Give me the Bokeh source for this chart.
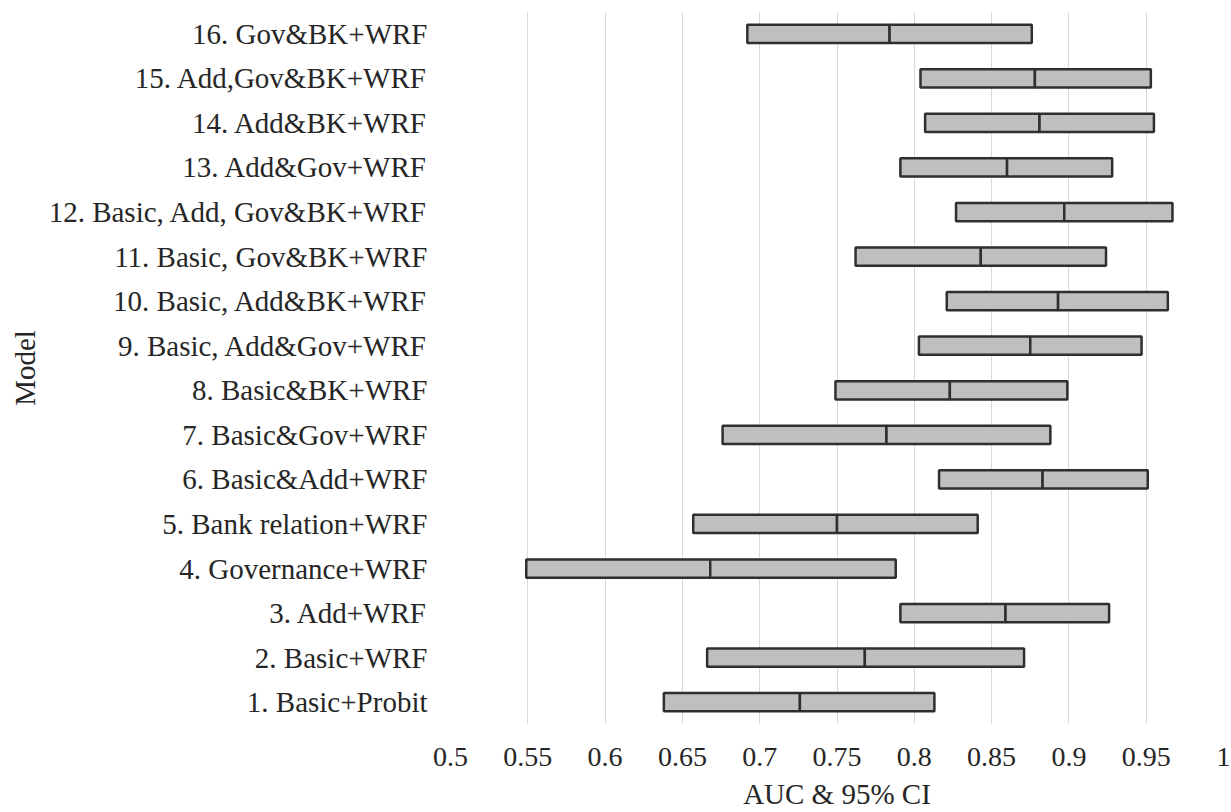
from bokeh.plotting import figure
from bokeh.models import FixedTicker, Range1d
from bokeh.embed import file_html
from bokeh.resources import INLINE

models = [
    "1. Basic+Probit",
    "2. Basic+WRF",
    "3. Add+WRF",
    "4. Governance+WRF",
    "5. Bank relation+WRF",
    "6. Basic&Add+WRF",
    "7. Basic&Gov+WRF",
    "8. Basic&BK+WRF",
    "9. Basic, Add&Gov+WRF",
    "10. Basic, Add&BK+WRF",
    "11. Basic, Gov&BK+WRF",
    "12. Basic, Add, Gov&BK+WRF",
    "13. Add&Gov+WRF",
    "14. Add&BK+WRF",
    "15. Add,Gov&BK+WRF",
    "16. Gov&BK+WRF",
]
ci_low = [0.638, 0.666, 0.791, 0.549, 0.657, 0.816, 0.676, 0.749,
          0.803, 0.821, 0.762, 0.827, 0.791, 0.807, 0.804, 0.692]
auc = [0.726, 0.768, 0.859, 0.668, 0.750, 0.883, 0.782, 0.823,
       0.875, 0.893, 0.843, 0.897, 0.860, 0.881, 0.878, 0.784]
ci_high = [0.813, 0.871, 0.926, 0.788, 0.841, 0.951, 0.888, 0.899,
           0.947, 0.964, 0.924, 0.967, 0.928, 0.955, 0.953, 0.876]
x_ticks = [0.5, 0.55, 0.6, 0.65, 0.7, 0.75, 0.8, 0.85, 0.9, 0.95, 1.0]
x_tick_labels = ["0.5", "0.55", "0.6", "0.65", "0.7", "0.75", "0.8", "0.85", "0.9", "0.95", "1"]

FONT = "Liberation Serif"
TXT = "#262626"

p = figure(
    y_range=models,
    x_range=Range1d(0.5, 1.0),
    width=1230,
    height=812,
    output_backend="svg",
    toolbar_location=None,
    min_border_left=450,
    min_border_right=7,
    min_border_top=11,
    min_border_bottom=87,
)
p.outline_line_color = None

p.hbar(y=models, left=ci_low, right=auc, height=0.41,
       fill_color="#bfbfbf", line_color="#2f2f2f", line_width=2.5)
p.hbar(y=models, left=auc, right=ci_high, height=0.41,
       fill_color="#bfbfbf", line_color="#2f2f2f", line_width=2.5)

p.xaxis.ticker = FixedTicker(ticks=x_ticks)
p.xaxis.major_label_overrides = {t: l for t, l in zip(x_ticks, x_tick_labels)}
p.xaxis.axis_label = "AUC & 95% CI"
p.yaxis.axis_label = "Model"

for ax in (p.xaxis[0], p.yaxis[0]):
    ax.axis_line_color = None
    ax.major_tick_line_color = None
    ax.minor_tick_line_color = None
    ax.major_tick_out = 0
    ax.major_tick_in = 0
    ax.major_label_text_font = FONT
    ax.major_label_text_color = TXT
    ax.axis_label_text_font = FONT
    ax.axis_label_text_font_size = "29px"
    ax.axis_label_text_font_style = "normal"
    ax.axis_label_text_color = TXT

p.xaxis.major_label_text_font_size = "28px"
p.yaxis.major_label_text_font_size = "29px"
p.xaxis.major_label_standoff = 23
p.xaxis.axis_label_standoff = 9
p.yaxis.major_label_standoff = 23
p.yaxis.axis_label_standoff = 5

p.xgrid.grid_line_color = "#d9d9d9"
p.xgrid.grid_line_width = 1
p.ygrid.grid_line_color = None

open("out.html", "w").write(file_html(p, INLINE))
